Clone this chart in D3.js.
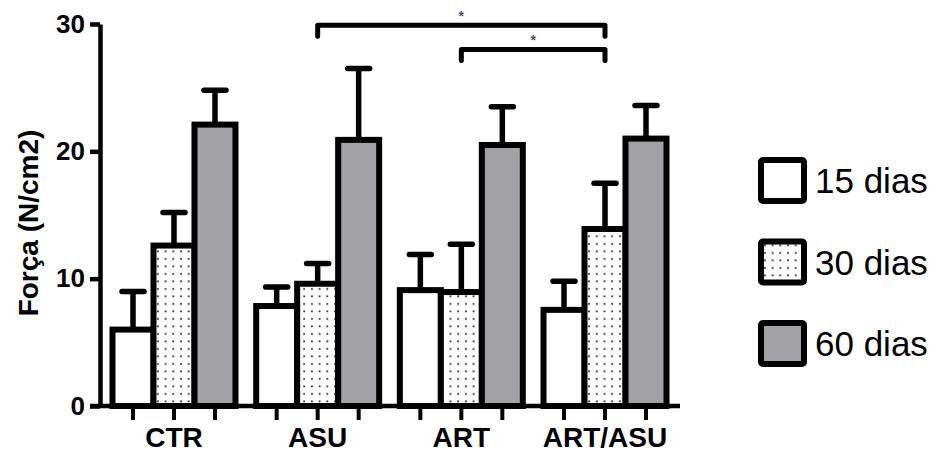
<!DOCTYPE html>
<html>
<head>
<meta charset="utf-8">
<script src="https://cdn.jsdelivr.net/npm/d3@7"></script>
<style>
  body { margin: 0; background: #fff; }
  svg { display: block; font-family: "Liberation Sans", Arial, sans-serif; }
</style>
</head>
<body>
<svg id="chart" width="936" height="456"></svg>
<script>
var groups = ['CTR', 'ASU', 'ART', 'ART/ASU'];
var series = ['15 dias', '30 dias', '60 dias'];
var means15 = [6.0, 7.85, 9.1, 7.55];
var means30 = [12.6, 9.6, 8.95, 13.9];
var means60 = [22.1, 20.9, 20.5, 21.0];
var sem15 = [3.0, 1.5, 2.8, 2.25];
var sem30 = [2.6, 1.6, 3.75, 3.6];
var sem60 = [2.7, 5.6, 3.0, 2.6];
var yTicks = [0, 10, 20, 30];
var yLabel = 'Força (N/cm2)';
// significance brackets: between two bars, drawn at a given level
var comparisons = [
  { g1: 'ASU', g2: 'ART/ASU', s: '30 dias', level: 29.9, label: '*' },
  { g1: 'ART', g2: 'ART/ASU', s: '30 dias', level: 28.0, label: '*' }
];

var means = [means15, means30, means60];
var sems = [sem15, sem30, sem60];
var fills = ['#fff', 'url(#dots)', '#a2a1a6'];

var rows = [];
groups.forEach(function(g, gi) {
  series.forEach(function(s, si) {
    rows.push({ group: g, series: s, si: si, mean: means[si][gi], sem: sems[si][gi] });
  });
});

var svg = d3.select('#chart');

var defs = svg.append('defs');
var pat = defs.append('pattern')
  .attr('id', 'dots')
  .attr('patternUnits', 'userSpaceOnUse')
  .attr('width', 7.7)
  .attr('height', 7.5);
pat.append('rect').attr('width', 7.7).attr('height', 7.5).attr('fill', '#fff');
pat.append('rect').attr('x', 3).attr('y', 3).attr('width', 1.8).attr('height', 1.8).attr('fill', '#333');

var y = d3.scaleLinear().domain([0, 30]).range([406, 24]);
var x0 = d3.scaleBand().domain(groups).range([112.5, 666.5]).paddingInner(0.144);
var x1 = d3.scaleBand().domain(series).range([0, x0.bandwidth()]);

function barCenter(g, s) { return x0(g) + x1(s) + x1.bandwidth() / 2; }

// y axis
var yAxis = svg.append('g')
  .attr('transform', 'translate(100,0)')
  .call(d3.axisLeft(y).tickValues(yTicks).tickSize(10).tickSizeOuter(0).tickPadding(5));
yAxis.select('.domain').attr('stroke', '#000').attr('stroke-width', 4.5);
yAxis.selectAll('.tick line').attr('stroke', '#000').attr('stroke-width', 4.5);
yAxis.selectAll('.tick text')
  .attr('fill', '#000')
  .style('font-size', '26px')
  .style('font-weight', 'bold');

svg.append('text')
  .attr('transform', 'translate(38,223) rotate(-90)')
  .attr('text-anchor', 'middle')
  .style('font-size', '28px')
  .style('font-weight', 'bold')
  .text(yLabel);

// error bars (drawn first so bars cover the stem base)
var err = svg.append('g').attr('stroke', '#000').attr('stroke-width', 5.5);
err.selectAll('.stem').data(rows).enter().append('line')
  .attr('class', 'stem')
  .attr('x1', function(d) { return barCenter(d.group, d.series); })
  .attr('x2', function(d) { return barCenter(d.group, d.series); })
  .attr('y1', function(d) { return y(d.mean); })
  .attr('y2', function(d) { return y(d.mean + d.sem); });
err.selectAll('.cap').data(rows).enter().append('line')
  .attr('class', 'cap')
  .attr('stroke-linecap', 'round')
  .attr('x1', function(d) { return barCenter(d.group, d.series) - 11; })
  .attr('x2', function(d) { return barCenter(d.group, d.series) + 11; })
  .attr('y1', function(d) { return y(d.mean + d.sem); })
  .attr('y2', function(d) { return y(d.mean + d.sem); });

// bars
svg.append('g').selectAll('.bar').data(rows).enter().append('rect')
  .attr('class', 'bar')
  .attr('x', function(d) { return x0(d.group) + x1(d.series); })
  .attr('y', function(d) { return y(d.mean); })
  .attr('width', x1.bandwidth())
  .attr('height', function(d) { return y(0) - y(d.mean); })
  .attr('fill', function(d) { return fills[d.si]; })
  .attr('stroke', '#000')
  .attr('stroke-width', 6);

// x axis line + ticks under each bar
svg.append('line')
  .attr('x1', 90).attr('x2', 680)
  .attr('y1', y(0)).attr('y2', y(0))
  .attr('stroke', '#000').attr('stroke-width', 4.5);
svg.append('g').selectAll('.xtick').data(rows).enter().append('line')
  .attr('class', 'xtick')
  .attr('x1', function(d) { return barCenter(d.group, d.series); })
  .attr('x2', function(d) { return barCenter(d.group, d.series); })
  .attr('y1', y(0)).attr('y2', y(0) + 14)
  .attr('stroke', '#000').attr('stroke-width', 4);

var xAxis = svg.append('g')
  .attr('transform', 'translate(0,' + y(0) + ')')
  .call(d3.axisBottom(x0).tickSize(0).tickPadding(21));
xAxis.select('.domain').remove();
xAxis.selectAll('.tick text')
  .attr('fill', '#000')
  .style('font-size', '28px')
  .style('font-weight', 'bold');

// significance brackets
var sig = svg.append('g');
comparisons.forEach(function(c) {
  var xa = barCenter(c.g1, c.s), xb = barCenter(c.g2, c.s), yy = y(c.level);
  sig.append('path')
    .attr('d', 'M' + xa + ',' + (yy + 11) + 'V' + yy + 'H' + xb + 'V' + (yy + 11))
    .attr('fill', 'none')
    .attr('stroke', '#000')
    .attr('stroke-width', 5)
    .attr('stroke-linecap', 'round')
    .attr('stroke-linejoin', 'round');
  sig.append('text')
    .attr('x', (xa + xb) / 2)
    .attr('y', yy - 4)
    .attr('text-anchor', 'middle')
    .attr('fill', '#555')
    .style('font-size', '14px')
    .style('font-weight', 'bold')
    .text(c.label);
});

// legend
var legend = svg.append('g').selectAll('.leg').data(series).enter().append('g')
  .attr('class', 'leg')
  .attr('transform', function(d, i) { return 'translate(761,' + (160 + i * 81.5) + ')'; });
legend.append('rect')
  .attr('width', 43).attr('height', 41)
  .attr('rx', 2)
  .attr('fill', function(d, i) { return fills[i]; })
  .attr('stroke', '#000')
  .attr('stroke-width', 6);
legend.append('text')
  .attr('x', 54)
  .attr('y', 33)
  .style('font-size', '35px')
  .text(function(d) { return d; });
</script>
</body>
</html>
